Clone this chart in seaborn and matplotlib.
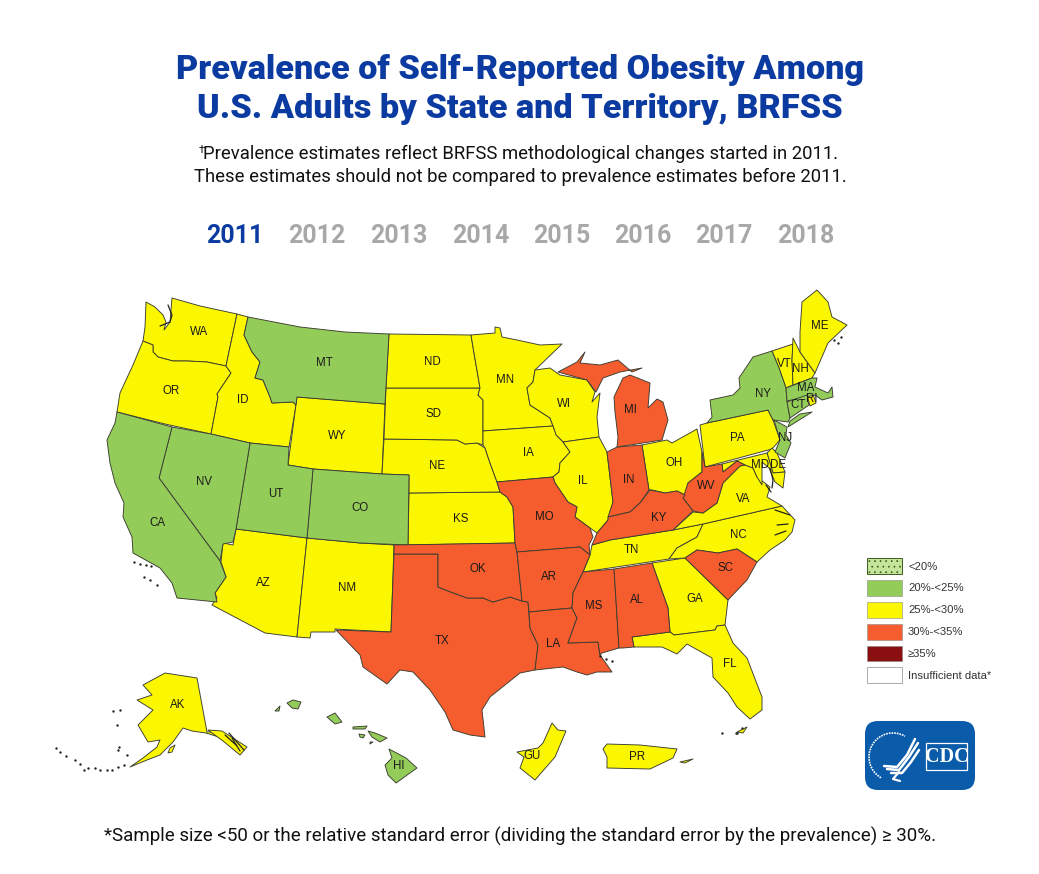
import seaborn as sns
import matplotlib.pyplot as plt
import pandas as pd
from matplotlib.patches import Patch, FancyBboxPatch, Rectangle, Arc

# prevalence classes
categories = ["<20%", "20%-<25%", "25%-<30%", "30%-<35%", "\u226535%", "Insufficient data*"]
colours = ["#C4E59A", "#94CC5A", "#FBF700", "#F55C2E", "#8A0F10", "#FFFFFF"]

years = ["2011", "2012", "2013", "2014", "2015", "2016", "2017", "2018"]
year_x = [235, 317, 399, 481, 562, 643, 724, 806]

# state labels
state_codes = ["WA", "OR", "ID", "MT", "WY", "NV", "CA", "UT", "CO", "AZ", "NM", "ND", "SD", "NE", "KS", "OK", "TX",
               "MN", "IA", "MO", "AR", "LA", "WI", "IL", "MI", "IN", "OH", "KY", "TN", "MS", "AL", "GA", "FL", "SC",
               "NC", "VA", "WV", "PA", "NY", "ME", "VT", "NH", "MA", "CT", "RI", "NJ", "MD", "DE", "AK", "HI", "GU", "PR"]
state_class = [2, 2, 2, 1, 2, 1, 1, 1, 1, 2, 2, 2, 2, 2, 2, 3, 3,
               2, 2, 3, 3, 3, 2, 2, 3, 3, 2, 3, 2, 3, 3, 2, 2, 3,
               2, 2, 3, 2, 1, 2, 2, 2, 1, 1, 2, 1, 2, 2, 2, 1, 2, 2]
label_x = [199, 171, 243, 324, 337, 204, 157, 276, 360, 263, 347, 432, 434, 437, 461, 478, 442,
           505, 528, 544, 549, 553, 564, 583, 630, 629, 674, 659, 631, 594, 637, 695, 730, 726,
           738, 743, 706, 737, 763, 820, 784, 800, 806, 798, 812, 785, 760, 778, 178, 399, 532, 637]
label_y = [332, 391, 400, 363, 436, 482, 523, 494, 508, 583, 588, 362, 414, 466, 519, 569, 641,
           380, 453, 517, 577, 644, 404, 481, 410, 480, 463, 518, 550, 606, 600, 599, 664, 568,
           535, 499, 486, 438, 394, 326, 364, 369, 388, 405, 399, 438, 465, 465, 705, 766, 756, 757]

# outlines, one list of (x, y) per state
WA = [(146, 302), (155, 307), (163, 315), (166, 322), (164, 330), (170, 322), (172, 298), (200, 306), (237, 314), (226, 366),
      (207, 362), (187, 361), (173, 361), (158, 357), (153, 352), (153, 345), (143, 341), (145, 327)]
OR = [(143, 341), (153, 345), (153, 352), (158, 357), (173, 361), (187, 361), (207, 362), (226, 366), (231, 373), (217, 394),
      (218, 397), (211, 434), (165, 424), (117, 412), (120, 393), (133, 365)]
ID = [(237, 314), (248, 317), (244, 335), (252, 352), (260, 362), (255, 378), (263, 380), (270, 397), (272, 403), (293, 402),
      (296, 405), (289, 447), (250, 443), (211, 434), (218, 397), (217, 394), (231, 373), (226, 366)]
MT = [(248, 317), (300, 327), (345, 332), (389, 334), (385, 404), (297, 397), (296, 405), (293, 402), (272, 403), (270, 397),
      (263, 380), (255, 378), (260, 362), (252, 352), (244, 335)]
WY = [(297, 397), (385, 404), (382, 474), (313, 469), (288, 465)]
CO = [(313, 469), (382, 474), (409, 475), (408, 545), (360, 543), (307, 538)]
UT = [(250, 443), (289, 447), (288, 465), (313, 469), (307, 538), (236, 529)]
NV = [(172, 427), (211, 434), (250, 443), (236, 529), (233, 542), (223, 544), (220, 561), (159, 478)]
CA = [(117, 412), (172, 427), (159, 478), (220, 561), (226, 577), (215, 593), (217, 602), (177, 598), (172, 583), (160, 568),
      (133, 553), (132, 537), (123, 517), (124, 503), (115, 483), (110, 463), (107, 440), (115, 423)]
AZ = [(236, 529), (307, 538), (297, 637), (265, 633), (212, 605), (217, 598), (215, 593), (226, 577), (221, 562), (223, 543),
      (233, 545)]
NM = [(307, 538), (360, 543), (394, 545), (391, 632), (335, 629), (335, 632), (311, 632), (310, 638), (297, 637)]
TX = [(394, 554), (438, 554), (438, 587), (448, 591), (467, 598), (483, 598), (493, 602), (510, 597), (522, 601), (528, 602),
      (530, 628), (538, 645), (535, 670), (520, 673), (490, 697), (482, 710), (485, 737), (470, 735), (453, 730), (445, 712),
      (430, 690), (413, 672), (400, 670), (387, 684), (363, 667), (360, 655), (336, 630), (391, 632)]
OK = [(394, 545), (515, 543), (517, 552), (522, 601), (510, 597), (493, 602), (483, 598), (467, 598), (448, 591), (438, 587),
      (438, 554), (394, 554)]
KS = [(409, 493), (500, 492), (507, 497), (513, 507), (515, 543), (408, 545)]
NE = [(384, 439), (457, 440), (465, 444), (477, 443), (485, 448), (490, 463), (497, 482), (500, 492), (409, 493), (409, 475),
      (382, 474)]
SD = [(386, 388), (480, 388), (478, 395), (483, 400), (483, 433), (483, 445), (477, 443), (465, 444), (457, 440), (384, 439)]
ND = [(389, 334), (471, 335), (474, 353), (480, 388), (386, 388)]
MN = [(471, 335), (495, 333), (495, 327), (500, 328), (502, 337), (517, 340), (540, 345), (562, 344), (535, 370), (533, 382),
      (527, 388), (530, 405), (550, 418), (553, 426), (483, 431), (483, 400), (478, 395), (480, 388), (474, 353)]
WI = [(535, 370), (550, 368), (560, 375), (587, 380), (595, 392), (592, 402), (600, 393), (597, 417), (599, 437), (563, 442),
      (556, 435), (553, 426), (550, 418), (530, 405), (527, 388), (533, 382)]
IA = [(483, 431), (553, 426), (556, 435), (563, 442), (570, 452), (560, 463), (559, 472), (553, 477), (497, 482), (490, 463),
      (485, 448), (483, 445)]
MO = [(497, 482), (553, 477), (555, 483), (568, 502), (577, 507), (575, 517), (590, 528), (593, 537), (589, 545), (590, 555),
      (580, 547), (517, 552), (515, 543), (513, 507), (507, 497), (500, 492)]
AR = [(517, 552), (580, 547), (590, 555), (583, 572), (573, 593), (572, 608), (529, 612), (528, 602), (522, 601)]
LA = [(529, 612), (572, 608), (577, 618), (568, 643), (598, 642), (600, 655), (605, 662), (612, 672), (597, 672), (587, 675),
      (577, 672), (563, 667), (535, 670), (538, 645), (530, 628)]
MS = [(583, 572), (614, 569), (619, 648), (602, 653), (600, 655), (598, 642), (568, 643), (577, 618), (572, 608), (573, 593)]
AL = [(614, 569), (652, 563), (668, 608), (670, 632), (632, 637), (634, 647), (623, 648), (619, 648)]
GA = [(652, 563), (685, 558), (728, 600), (725, 625), (717, 626), (715, 630), (674, 635), (670, 632), (668, 608)]
SC = [(685, 558), (697, 550), (718, 553), (737, 549), (757, 562), (747, 580), (728, 600)]
FL = [(632, 637), (670, 632), (674, 635), (715, 630), (717, 626), (725, 625), (733, 643), (747, 658), (762, 697), (762, 710),
      (750, 719), (737, 707), (728, 693), (713, 677), (712, 658), (687, 644), (677, 654), (662, 647), (640, 647), (634, 647)]
TN = [(583, 572), (590, 555), (592, 545), (610, 540), (673, 530), (703, 524), (697, 537), (677, 548), (669, 559)]
NC = [(703, 524), (782, 506), (795, 520), (792, 532), (785, 540), (770, 550), (757, 562), (737, 549), (718, 553), (697, 550),
      (685, 558), (669, 559), (677, 548), (697, 537)]
VA = [(673, 530), (693, 512), (703, 513), (717, 503), (723, 483), (733, 473), (740, 466), (745, 465), (753, 468), (757, 477),
      (770, 487), (767, 497), (782, 506), (703, 524)]
WV = [(702, 452), (705, 467), (722, 464), (723, 472), (737, 461), (745, 465), (740, 466), (733, 473), (723, 483), (717, 503),
      (703, 513), (693, 511), (683, 498), (688, 483), (702, 472)]
OH = [(642, 445), (667, 440), (672, 443), (697, 429), (702, 452), (702, 472), (688, 483), (685, 495), (677, 491), (665, 493),
      (652, 490), (649, 490)]
IN = [(607, 452), (617, 447), (642, 445), (649, 490), (640, 503), (630, 512), (608, 517), (613, 502)]
MI = [(617, 447), (662, 440), (668, 420), (663, 402), (657, 399), (648, 408), (650, 383), (630, 375), (623, 378), (614, 397),
      (615, 412), (618, 437)]
UP = [(558, 372), (577, 362), (585, 352), (580, 363), (600, 365), (618, 360), (632, 372), (642, 368), (620, 372), (603, 378),
      (596, 392), (587, 380)]
IL = [(563, 442), (599, 437), (607, 452), (613, 502), (608, 520), (597, 533), (590, 528), (575, 517), (577, 507), (568, 502),
      (555, 483), (553, 477), (559, 472), (560, 463), (570, 452)]
KY = [(608, 517), (630, 512), (640, 503), (650, 490), (665, 493), (677, 491), (685, 495), (683, 498), (693, 511), (673, 530),
      (610, 540), (592, 545), (597, 533), (608, 520)]
PA = [(700, 425), (707, 423), (768, 410), (773, 420), (780, 440), (772, 449), (705, 467)]
NY = [(707, 423), (712, 417), (710, 400), (733, 395), (740, 388), (739, 378), (753, 357), (772, 351), (779, 368), (786, 388),
      (787, 401), (790, 418), (788, 422), (773, 420), (768, 410)]
LI = [(788, 427), (812, 412), (800, 414), (790, 421)]
VT = [(772, 351), (793, 344), (792, 360), (793, 385), (786, 388), (779, 368)]
NH = [(793, 338), (800, 352), (815, 373), (812, 378), (793, 385), (792, 360)]
ME = [(800, 332), (802, 302), (817, 290), (828, 302), (832, 317), (847, 325), (828, 343), (815, 373), (800, 352)]
MA = [(786, 388), (812, 378), (817, 378), (815, 387), (828, 393), (832, 387), (833, 397), (822, 400), (815, 395), (787, 401)]
CT = [(787, 402), (807, 395), (809, 405), (790, 418)]
RI = [(807, 395), (813, 394), (816, 403), (810, 406)]
NJ = [(774, 420), (787, 427), (786, 435), (791, 443), (785, 458), (775, 452), (780, 440)]
DE = [(767, 453), (772, 448), (777, 453), (785, 472), (773, 473)]
MD = [(722, 464), (767, 453), (773, 473), (785, 472), (783, 488), (775, 482), (769, 468), (762, 462), (762, 485), (757, 477),
      (753, 468), (745, 465), (737, 461), (723, 472)]
AK = [(165, 673), (197, 678), (207, 732), (213, 732), (222, 738), (206, 733), (192, 731), (183, 728), (173, 742), (160, 755),
      (147, 760), (130, 767), (143, 758), (157, 747), (160, 740), (148, 742), (138, 725), (153, 710), (137, 700), (152, 695),
      (143, 685)]
AK_PAN = [(208, 730), (222, 731), (247, 747), (240, 755), (223, 741)]
AK_ISLE = [(170, 748), (175, 745), (172, 752), (168, 753)]
GU = [(552, 723), (558, 730), (566, 731), (555, 757), (535, 780), (520, 768), (524, 757), (517, 752), (538, 748), (543, 743)]
PR = [(607, 744), (640, 745), (677, 749), (673, 758), (650, 769), (607, 768), (607, 757), (603, 749)]
PR_VI = [(680, 762), (693, 759), (685, 763)]
HI_KA = [(287, 703), (293, 700), (301, 702), (298, 709), (292, 708)]
HI_NI = [(275, 711), (280, 706), (279, 711)]
HI_OA = [(327, 717), (335, 713), (342, 722), (335, 724)]
HI_MO = [(353, 727), (367, 726), (365, 729), (353, 729)]
HI_LA = [(359, 734), (365, 735), (363, 738), (360, 737)]
HI_MA = [(368, 731), (375, 733), (387, 738), (380, 742), (372, 737)]
HI_KH = [(370, 742), (373, 742), (370, 744)]
HI_BI = [(389, 749), (406, 758), (417, 768), (396, 783), (388, 775), (385, 765), (392, 758)]
FL_KEY = [(737, 732), (747, 727), (743, 733)]

state_shapes = {
    2: [WA, OR, ID, WY, AZ, NM, KS, NE, SD, ND, MN, WI, IA, IL, OH, GA, FL, TN, NC, VA, PA, VT, NH, ME, RI, DE, MD, AK,
        AK_PAN, AK_ISLE, GU, PR, PR_VI, FL_KEY],
    1: [MT, CO, UT, NV, CA, NY, LI, MA, CT, NJ, HI_KA, HI_NI, HI_OA, HI_MO, HI_LA, HI_MA, HI_KH, HI_BI],
    3: [TX, OK, MO, AR, LA, MS, AL, SC, WV, IN, MI, UP, KY],
}

# Aleutians, Channel Islands and other specks, too small to fill
speck_x = [56, 60, 66, 75, 80, 84, 88, 95, 100, 107, 112, 118, 124, 113, 120, 117, 119, 127, 118, 737, 722, 736, 742,
           134, 140, 146, 151, 144, 150, 157, 834, 838, 841, 600, 606, 612]
speck_y = [748, 752, 756, 760, 764, 770, 768, 768, 770, 770, 770, 767, 765, 711, 710, 725, 747, 755, 750, 733, 733, 733, 728,
           562, 564, 565, 566, 577, 580, 585, 340, 343, 337, 656, 659, 661]

# dark inlets: Puget Sound, Chesapeake, Albemarle, panhandle islands, Lake Superior
inlet_x = [[168, 172, 170, 160], [770, 773, 772], [766, 771], [775, 790], [777, 788], [775, 786], [229, 244], [232, 240], [225, 236]]
inlet_y = [[305, 315, 322, 326], [468, 480, 488], [485, 492], [510, 515], [525, 524], [535, 531], [733, 750], [738, 751], [735, 745]]

plt.rcParams["hatch.linewidth"] = 0.5
sns.set_theme(style="white")
plt.rcParams["font.family"] = ["Liberation Sans", "DejaVu Sans"]
plt.rcParams["hatch.linewidth"] = 0.5

fig = plt.figure(figsize=(10.39, 8.74), dpi=100)
ax = fig.add_axes([0, 0, 1, 1])
ax.set_xlim(0, 1039)
ax.set_ylim(874, 0)
ax.axis("off")

# fill states
for cls, shapes in state_shapes.items():
    for shape in shapes:
        xs, ys = zip(*shape)
        ax.fill(xs, ys, facecolor=colours[cls], edgecolor="#3a3c30", linewidth=0.65, joinstyle="round", zorder=2)

for ix, iy in zip(inlet_x, inlet_y):
    ax.plot(ix, iy, color="#222222", linewidth=0.9, zorder=3)

sns.scatterplot(x=speck_x, y=speck_y, s=3, color="#222222", linewidth=0, legend=False, ax=ax, zorder=3)

labels = pd.DataFrame({"code": state_codes, "cls": state_class, "x": label_x, "y": label_y})
for _, row in labels.iterrows():
    ax.text(row["x"], row["y"], row["code"], fontsize=8.3, color="#1a1a1a", ha="center", va="center", zorder=4)

# headings
title_blue = "#0B3BA1"
ax.text(520, 70, "Prevalence of Self-Reported Obesity Among", fontsize=24.7, fontweight="black", family="Roboto",
        color=title_blue, ha="center", va="center")
ax.text(520, 109, "U.S. Adults by State and Territory, BRFSS", fontsize=24.7, fontweight="black", family="Roboto",
        color=title_blue, ha="center", va="center")
ax.text(199, 150, "\u2020", fontsize=8, family="Roboto", color="#111111", ha="left", va="center")
ax.text(521, 154, "Prevalence estimates reflect BRFSS methodological changes started in 2011.", fontsize=13.3,
        family="Roboto", color="#111111", ha="center", va="center")
ax.text(520, 177, "These estimates should not be compared to prevalence estimates before 2011.", fontsize=13.3,
        family="Roboto", color="#111111", ha="center", va="center")
for i, (yr, x) in enumerate(zip(years, year_x)):
    ax.text(x, 236, yr, fontsize=18, fontweight="bold", family="Roboto", ha="center", va="center",
            color=title_blue if i == 0 else "#A8A8A8")
ax.text(520, 836, "*Sample size <50 or the relative standard error (dividing the standard error by the prevalence) \u2265 30%.",
        fontsize=13.5, family="Roboto", color="#111111", ha="center", va="center")

# legend
handles = []
for i, (cat, col) in enumerate(zip(categories, colours)):
    if i == 0:
        handles.append(Patch(facecolor=col, edgecolor="#3d5a20", hatch="...", linewidth=0.7, label=cat))
    elif i == 5:
        handles.append(Patch(facecolor=col, edgecolor="#aaaaaa", linewidth=0.7, label=cat))
    else:
        handles.append(Patch(facecolor=col, edgecolor="#8a8a8a", linewidth=0.4, label=cat))
ax.legend(handles=handles, loc="upper left", bbox_to_anchor=(867 / 1039, 1 - 558 / 874), bbox_transform=fig.transFigure,
          frameon=False, fontsize=8.1, handlelength=3.1, handleheight=1.8, labelspacing=0.53, handletextpad=0.55,
          borderpad=0, borderaxespad=0, labelcolor="#333333")

# CDC logo
logo_blue = "#0A5BAA"
ax.add_patch(FancyBboxPatch((865, 721), 110, 69, boxstyle="round,pad=0,rounding_size=13", mutation_aspect=1,
                            facecolor=logo_blue, edgecolor="none", zorder=5))
ax.add_patch(Rectangle((926, 743), 41, 27, facecolor="none", edgecolor="white", linewidth=0.9, zorder=6))
ax.text(946.5, 757, "CDC", fontsize=14.5, fontweight="bold", family="Liberation Serif", color="white", ha="center",
        va="center", zorder=6)
ax.add_patch(Arc((893, 757), 48, 48, theta1=120, theta2=300, color="white", linewidth=1.2, linestyle=(0, (1, 0.6)), zorder=6))
wing_x = [[884, 897, 907, 915], [887, 899, 909, 918], [891, 902, 911, 919]]
wing_y = [[766, 767, 755, 739], [769, 770, 757, 743], [773, 773, 762, 750]]
for wx, wy in zip(wing_x, wing_y):
    ax.plot(wx, wy, color="white", linewidth=1.8, solid_capstyle="round", zorder=6)
ax.plot([899, 893, 900], [772, 779, 781], color="white", linewidth=1.6, zorder=6)

fig.savefig("out.png", dpi=100, facecolor="white")
